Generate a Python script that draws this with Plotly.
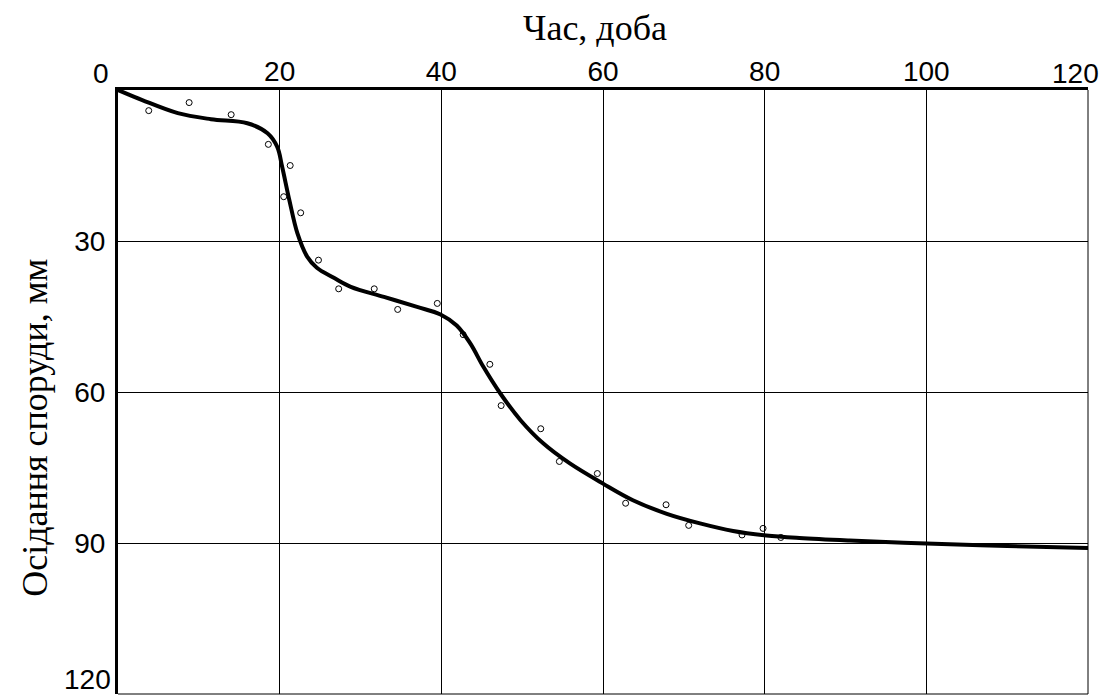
import plotly.graph_objects as go

# fitted curve (time in days, settlement in mm)
curve_x = [0, 3, 7.4, 11.5, 16, 18.5, 19.7, 20.3, 21.2, 22.2, 23.4, 24.6, 26.7, 28.8,
           32.9, 37, 39.9, 41.9, 43.6, 45.2, 47.3, 49.8, 52.6, 55.9, 60, 63.7, 67.9,
           72, 76.1, 80.2, 84.3, 90.5, 100, 110, 120]
curve_y = [0, 2, 4.6, 5.8, 6.6, 8.6, 11.3, 15.2, 21.9, 28.5, 33.1, 35.3, 37.3, 39.1,
           41.1, 43.1, 44.6, 46.8, 50.4, 55, 60.3, 65.6, 70.2, 74.2, 78.2, 81.5, 84.2,
           86.1, 87.6, 88.5, 89, 89.5, 90.1, 90.6, 91]

# measured points
obs_x = [3.8, 8.8, 14.0, 18.6, 21.3, 20.5, 22.6, 24.8, 27.3, 31.7, 34.6, 39.5, 42.7,
         46.0, 47.4, 52.3, 54.6, 59.3, 62.8, 67.8, 70.6, 77.2, 79.8, 82.0]
obs_y = [4.1, 2.5, 4.9, 10.8, 15.0, 21.2, 24.4, 33.8, 39.5, 39.5, 43.6, 42.4, 48.6,
         54.5, 62.7, 67.3, 73.8, 76.2, 82.1, 82.4, 86.5, 88.4, 87.1, 88.9]

x_ticks = [0, 20, 40, 60, 80, 100, 120]
y_ticks = [0, 30, 60, 90, 120]
x_title = "Час, доба"
y_title = "Осідання споруди, мм"

SANS = "Liberation Sans, Arial, sans-serif"
SERIF = "Liberation Serif, Times New Roman, serif"

fig = go.Figure()
fig.add_trace(go.Scatter(x=curve_x, y=curve_y, mode="lines",
                         line=dict(color="black", width=4, shape="spline", smoothing=1.0),
                         showlegend=False, hoverinfo="skip"))
fig.add_trace(go.Scatter(x=obs_x, y=obs_y, mode="markers",
                         marker=dict(symbol="circle-open", size=6, color="black",
                                     line=dict(width=1, color="black")),
                         showlegend=False))

x_text = ["" if v in (x_ticks[0], x_ticks[-1]) else str(v) for v in x_ticks]
y_text = ["" if v in (y_ticks[0], y_ticks[-1]) else str(v) for v in y_ticks]

fig.update_layout(
    width=1099, height=695,
    margin=dict(l=118, r=11, t=90, b=1),
    paper_bgcolor="white", plot_bgcolor="white",
    xaxis=dict(side="top", range=[x_ticks[0], x_ticks[-1]], tickmode="array",
               tickvals=x_ticks, ticktext=x_text, showgrid=True, gridcolor="black",
               gridwidth=1, showline=True, linecolor="black", linewidth=3,
               ticks="", zeroline=False, ticklabelstandoff=-5,
               tickfont=dict(family=SANS, size=28, color="black")),
    yaxis=dict(range=[y_ticks[-1], y_ticks[0]], tickmode="array",
               tickvals=y_ticks, ticktext=y_text, showgrid=True, gridcolor="black",
               gridwidth=1, showline=True, linecolor="black", linewidth=3,
               ticks="", zeroline=False, ticklabelstandoff=4,
               tickfont=dict(family=SANS, size=28, color="black")),
    shapes=[
        dict(type="line", xref="paper", yref="paper", x0=1, x1=1, y0=0, y1=1,
             line=dict(color="black", width=1)),
        dict(type="line", xref="paper", yref="paper", x0=0, x1=1, y0=0, y1=0,
             line=dict(color="black", width=1)),
    ],
    annotations=[
        dict(text=str(x_ticks[0]), x=x_ticks[0], xref="x", y=1, yref="paper",
             yanchor="bottom", xanchor="center", xshift=-17, yshift=-1, showarrow=False,
             font=dict(family=SANS, size=28, color="black")),
        dict(text=str(x_ticks[-1]), x=x_ticks[-1], xref="x", y=1, yref="paper",
             yanchor="bottom", xanchor="center", xshift=-13, yshift=-1, showarrow=False,
             font=dict(family=SANS, size=28, color="black")),
        dict(text=str(y_ticks[-1]), x=0, xref="paper", y=y_ticks[-1], yref="y",
             xanchor="right", yanchor="middle", xshift=-5, yshift=15, showarrow=False,
             font=dict(family=SANS, size=28, color="black")),
        dict(text=x_title, x=0.492, xref="paper", y=1.103, yref="paper",
             xanchor="center", yanchor="middle", showarrow=False,
             font=dict(family=SERIF, size=36, color="black")),
        dict(text=y_title, x=-0.085, xref="paper", y=0.44, yref="paper",
             xanchor="center", yanchor="middle", textangle=-90, showarrow=False,
             font=dict(family=SERIF, size=36, color="black")),
    ],
)

fig.write_html("out.html", config={"displayModeBar": False},
               post_script="document.body.style.margin='0';document.body.style.padding='0';")
